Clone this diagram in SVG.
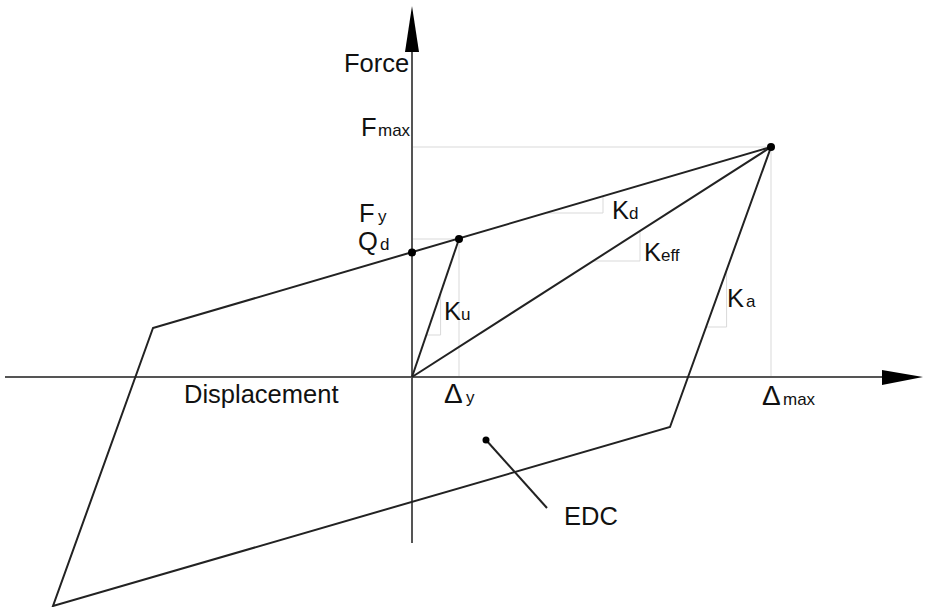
<svg xmlns="http://www.w3.org/2000/svg" width="925" height="607" viewBox="0 0 925 607">
<style>
.guide{stroke:#d9d9d9;stroke-width:1;fill:none}
.axis{stroke:#555;stroke-width:2;fill:none}
.curve{stroke:#222;stroke-width:2;fill:none;stroke-linejoin:miter}
.t{font-family:"Liberation Sans",Arial,sans-serif;font-size:25.5px;fill:#111}
.s{font-size:17px}
.d{font-size:28px}
</style>
<rect width="925" height="607" fill="#fff"/>
<g id="guides">
<polyline class="guide" points="412,147 771,147 771,377"/>
<polyline class="guide" points="412,239 459,239 459,377"/>
<polyline class="guide" points="440.6,293 440.6,335 426,335"/>
<polyline class="guide" points="547,213 603,213 603,196.5"/>
<polyline class="guide" points="593,261 640,261 640,231"/>
<polyline class="guide" points="726.6,270 726.6,327 706,327"/>
</g>
<g id="axes">
<line class="axis" x1="412" y1="543" x2="412" y2="50"/>
<polygon points="412,6 405,52 419,52" fill="#000"/>
<line class="axis" x1="5" y1="377" x2="884" y2="377"/>
<polygon points="923,377 882,370 882,385" fill="#000"/>
</g>
<g id="connectors">
<polygon class="curve" points="153,328 771,147 670,427 53,606"/>
<line class="curve" x1="412" y1="377" x2="459" y2="239"/>
<line class="curve" x1="412" y1="377" x2="771" y2="147"/>
<line class="curve" x1="486" y1="440" x2="547" y2="508"/>
</g>
<g id="points">
<circle cx="412" cy="252.5" r="4" fill="#000"/>
<circle cx="459" cy="239" r="4" fill="#000"/>
<circle cx="771" cy="147" r="4" fill="#000"/>
<circle cx="486" cy="440" r="3.5" fill="#000"/>
</g>
<g id="labels">
<text class="t" x="344" y="72">Force</text>
<text class="t" x="361" y="136">F</text>
<text class="t s" x="378" y="136">max</text>
<text class="t" x="359" y="222">F<tspan class="s" x="378">y</tspan></text>
<text class="t" x="358" y="250">Q<tspan class="s" x="380">d</tspan></text>
<text class="t" x="444" y="320">K<tspan class="s" x="461">u</tspan></text>
<text class="t" x="612" y="219">K<tspan class="s" x="629">d</tspan></text>
<text class="t" x="644" y="261">K<tspan class="s" x="661">eff</tspan></text>
<text class="t" x="727" y="307">K<tspan class="s" x="746">a</tspan></text>
<text class="t" x="762" y="405"><tspan class="d">Δ</tspan><tspan class="s" x="783">max</tspan></text>
<text class="t" x="444" y="403"><tspan class="d">Δ</tspan><tspan class="s" x="466">y</tspan></text>
<text class="t" x="184" y="403">Displacement</text>
<text class="t" x="564" y="525">EDC</text>
</g>
</svg>
